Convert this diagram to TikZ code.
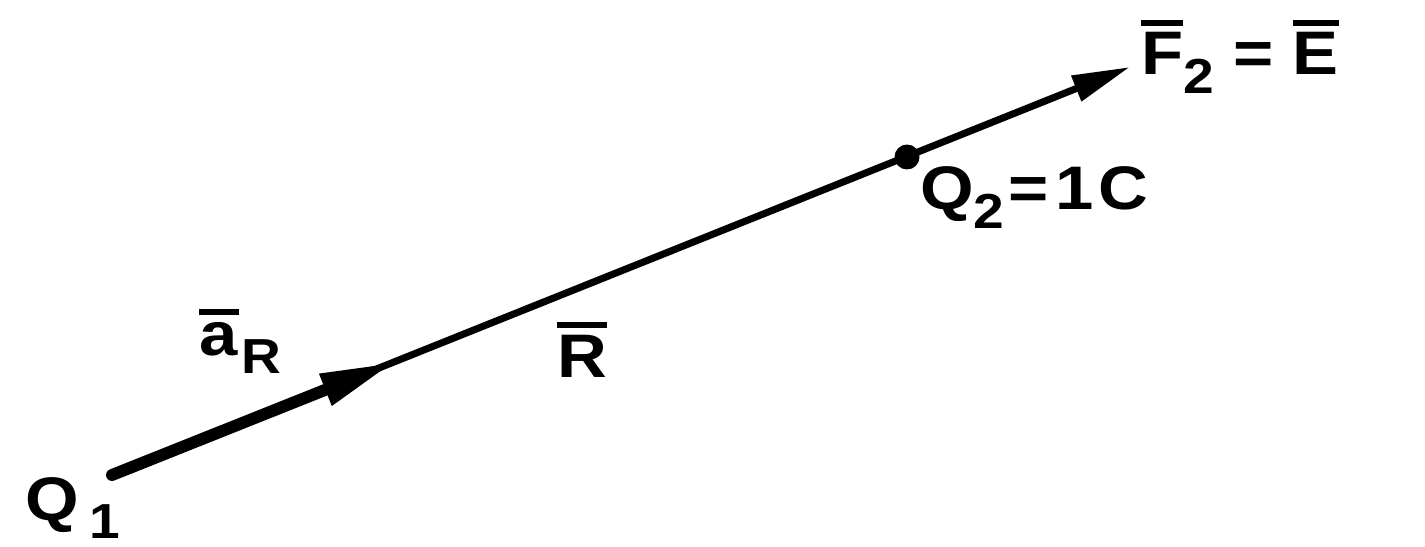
\documentclass[tikz,border=0pt]{standalone}
\usepackage{fontspec}
\setmainfont{Liberation Sans}[FakeStretch=1.12]
\usetikzlibrary{arrows.meta}
\newcommand\sub[1]{\raisebox{-0.3em}{\fontsize{28}{32}\selectfont #1}}
\newcommand\vecbar[1]{\vbox{\hrule height 3.4pt\kern 4pt\hbox{#1}}}
\tikzset{
    lbl/.style={inner sep=0pt, anchor=base west, font=\bfseries\fontsize{35}{40}\selectfont},
    thinvec/.style={line width=4pt, -{Triangle[length=1.16cm, width=0.52cm]}},
    thickvec/.style={line width=6.8pt, line cap=round, -{Triangle[length=1.5cm, width=0.62cm]}}
}
\begin{document}
\begin{tikzpicture}[x=0.02cm, y=-0.02cm]
    \useasboundingbox (0,0) rectangle (1425,547);
    \coordinate (q1) at (112,475);
    \coordinate (ar) at (395,362);
    \coordinate (f2) at (1130,67);
    \node[circle, fill=black, inner sep=0pt, minimum size=0.5cm] (q2) at (907,157) {};

    \draw[thinvec] (q1) -- (f2);
    \draw[thickvec] (q1) -- (ar);

    \node[lbl] (q1lbl) at (25,520) {Q\kern6pt\sub{1}};
    \node[lbl] (arlbl) at (199,355) {\vecbar{a\kern1pt}\kern1pt\sub{R}};
    \node[lbl] (rlbl) at (557,377) {\vecbar{R}};
    \node[lbl] (q2lbl) at (920,210) {Q\sub{2}\kern2pt=\kern4pt1\kern3ptC};
    \node[lbl] (f2lbl) at (1141,75) {\vecbar{F}\sub{2}\kern11pt=\kern11pt\vecbar{E}};
\end{tikzpicture}
\end{document}
